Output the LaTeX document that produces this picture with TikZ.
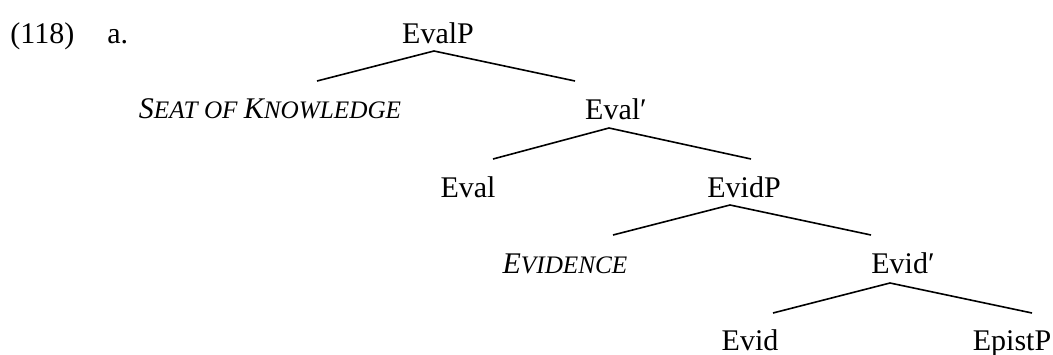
\documentclass[tikz,border=0pt]{standalone}
\usepackage{fontspec}
\setmainfont{Liberation Serif}
\usepackage{tikz}
\usetikzlibrary{positioning}

% faked small caps for the italic labels
\newcommand{\smcap}[1]{{\fontsize{12.6}{14}\selectfont #1}}

\begin{document}
\begin{tikzpicture}[
  x=0.5pt,y=-0.5pt,
  lbl/.style={anchor=base,inner sep=0pt,font=\fontsize{15}{18}\selectfont},
  role/.style={lbl,font=\fontsize{15}{18}\selectfont\itshape},
  branch/.style={line width=0.8pt}
]
  \useasboundingbox (0,0) rectangle (1053,354);
  \node[lbl,anchor=base west] (num) at (10,43) {(118)};
  \node[lbl,anchor=base west] (sub) at (107,43) {a.};

  \node[lbl]  (evalP)    at (438,43)  {EvalP};
  \node[role] (seat)     at (270,118) {S\smcap{EAT OF }K\smcap{NOWLEDGE}};
  \node[lbl]  (evalbar)  at (616,119) {Eval′};
  \node[lbl]  (eval)     at (468,197) {Eval};
  \node[lbl]  (evidP)    at (744,197) {EvidP};
  \node[role] (evidence) at (565,273) {E\smcap{VIDENCE}};
  \node[lbl]  (evidbar)  at (903,273) {Evid′};
  \node[lbl]  (evid)     at (750,350) {Evid};
  \node[lbl]  (epistP)   at (1012,350) {EpistP};

  % branch points
  \coordinate (evalP-a)   at (434,51);  \coordinate (evalP-l)   at (317,81);  \coordinate (evalP-r)   at (575,81);
  \coordinate (evalbar-a) at (609,128); \coordinate (evalbar-l) at (493,159); \coordinate (evalbar-r) at (751,159);
  \coordinate (evidP-a)   at (730,205); \coordinate (evidP-l)   at (613,235); \coordinate (evidP-r)   at (871,235);
  \coordinate (evidbar-a) at (890,283); \coordinate (evidbar-l) at (773,313); \coordinate (evidbar-r) at (1032,313);

  \draw[branch] (evalP-l) -- (evalP-a) -- (evalP-r);
  \draw[branch] (evalbar-l) -- (evalbar-a) -- (evalbar-r);
  \draw[branch] (evidP-l) -- (evidP-a) -- (evidP-r);
  \draw[branch] (evidbar-l) -- (evidbar-a) -- (evidbar-r);
\end{tikzpicture}
\end{document}
